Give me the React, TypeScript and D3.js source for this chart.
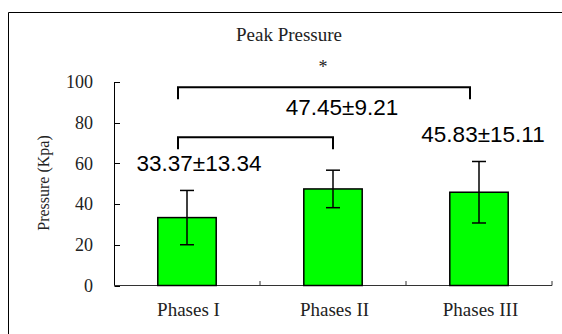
import React from 'react'
import * as d3 from 'd3'

// chart data
const phases = ['Phases I', 'Phases II', 'Phases III']
const means = [33.37, 47.45, 45.83]
const sds = [13.34, 9.21, 15.11]
const yTicks = [0, 20, 40, 60, 80, 100]
// significance brackets: [from index, to index, level in kPa]
const bracketFrom = [0, 0]
const bracketTo = [1, 2]
const bracketLevel = [72.8, 97.4]
const starText = '*'

const W = 562
const H = 334
const serif = '"Liberation Serif", "Times New Roman", serif'
const sans = '"Liberation Sans", Arial, sans-serif'

export default function App() {
  const x = d3.scaleBand().domain(phases).range([114, 552]).paddingInner(0.6).paddingOuter(0.3)
  const y = d3.scaleLinear().domain([0, 100]).range([285.5, 82])
  const step = x.step()
  const bw = x.bandwidth()
  const cx = (i: number) => (x(phases[i]) as number) + bw / 2

  // where the mean±sd label sits; Phase II goes above its bracket
  const labelPos = phases.map((p, i) => {
    if (i === 1) return { x: cx(i) + 9, y: y(bracketLevel[1]) + 28 }
    return { x: cx(i) + (i === 0 ? 12 : 4), y: y(means[i] + sds[i]) - 19 }
  })

  return (
    <svg width={W} height={H} style={{ display: 'block', position: 'absolute', left: 0, top: 0 }}>
      <rect x={0} y={0} width={W} height={H} fill="#fff" />
      {/* frame, open on right/bottom (cut off by picture) */}
      <path d={`M8.5,${H + 2}V12.5H${W + 2}`} fill="none" stroke="#000" strokeWidth={1} />

      <text x={289} y={40.5} textAnchor="middle" fontFamily={serif} fontSize={19} fill="#222">
        Peak Pressure
      </text>

      {/* y axis */}
      <line x1={114.5} x2={114.5} y1={y(100)} y2={y(0)} stroke="#000" />
      {yTicks.map(t => (
        <g key={t}>
          <line x1={114.5} x2={120} y1={Math.round(y(t)) + 0.5} y2={Math.round(y(t)) + 0.5} stroke="#000" />
          <text x={93} y={y(t)} dy="0.35em" textAnchor="end" fontFamily={serif} fontSize={18} fill="#222">
            {t}
          </text>
        </g>
      ))}
      <text
        transform={`translate(43,183) rotate(-90)`}
        textAnchor="middle"
        dominantBaseline="central"
        fontFamily={serif}
        fontSize={16}
        fill="#222"
      >
        Pressure (Kpa)
      </text>

      {/* x axis */}
      <line x1={114} x2={552} y1={285.5} y2={285.5} stroke="#333" />
      {phases.map((p, i) => (
        <line key={p} x1={114 + step * (i + 1)} x2={114 + step * (i + 1)} y1={285.5} y2={281} stroke="#333" />
      ))}
      {phases.map((p, i) => (
        <text key={p} x={cx(i) + 1.5} y={316} textAnchor="middle" fontFamily={serif} fontSize={19} fill="#222">
          {p}
        </text>
      ))}

      {/* bars */}
      {phases.map((p, i) => (
        <rect
          key={p}
          x={x(p)}
          y={y(means[i])}
          width={bw}
          height={y(0) - y(means[i])}
          fill="#00ff00"
          stroke="#000"
          strokeWidth={1.5}
        />
      ))}

      {/* error bars */}
      {phases.map((p, i) => (
        <g key={p} stroke="#000" strokeWidth={1.5}>
          <line x1={cx(i)} x2={cx(i)} y1={y(means[i] - sds[i])} y2={y(means[i] + sds[i])} />
          <line x1={cx(i) - 7} x2={cx(i) + 7} y1={y(means[i] + sds[i])} y2={y(means[i] + sds[i])} />
          <line x1={cx(i) - 7} x2={cx(i) + 7} y1={y(means[i] - sds[i])} y2={y(means[i] - sds[i])} />
        </g>
      ))}

      {/* value labels */}
      {phases.map((p, i) => (
        <text key={p} x={labelPos[i].x} y={labelPos[i].y} textAnchor="middle" fontFamily={sans} fontSize={22.5} fill="#000">
          {means[i].toFixed(2)}±{sds[i].toFixed(2)}
        </text>
      ))}

      {/* significance brackets */}
      {bracketFrom.map((a, k) => {
        const b = bracketTo[k]
        const x1 = cx(a) - 9
        const x2 = b === 2 ? cx(b) - 9 : cx(b)
        const yy = y(bracketLevel[k])
        return (
          <path key={k} d={`M${x1},${yy + 12}V${yy}H${x2}V${yy + 12}`} fill="none" stroke="#000" strokeWidth={2} />
        )
      })}
      <text x={323} y={73} textAnchor="middle" fontFamily={serif} fontSize={18} fill="#222">
        {starText}
      </text>
    </svg>
  )
}
